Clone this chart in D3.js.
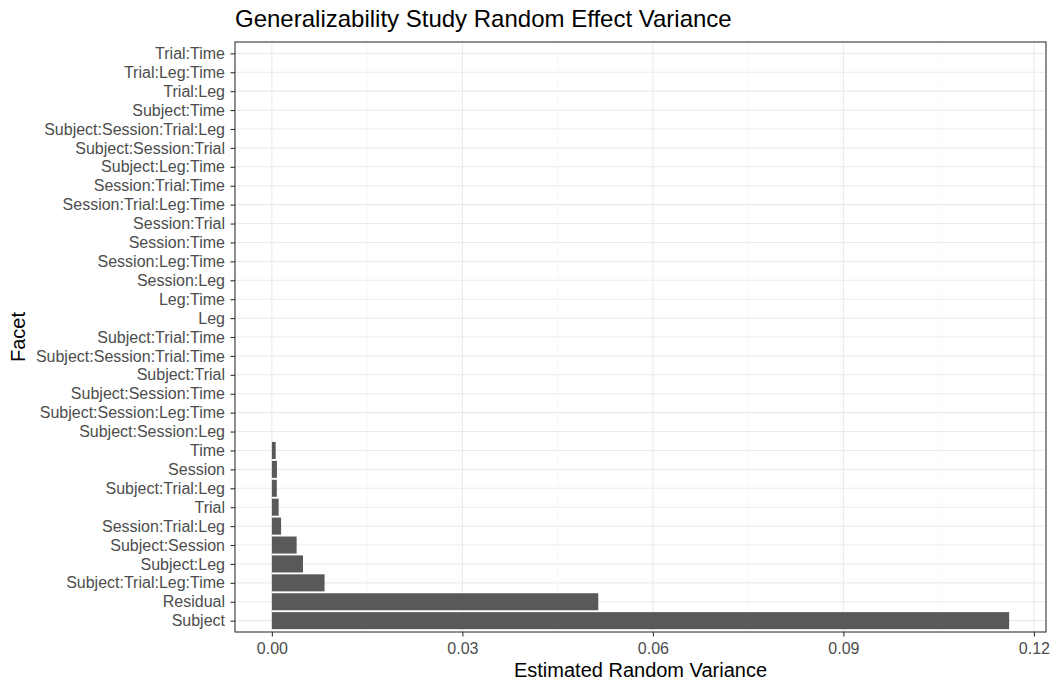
<!DOCTYPE html>
<html>
<head>
<meta charset="utf-8">
<script src="https://cdn.jsdelivr.net/npm/d3@7"></script>
<style>
  body { margin: 0; background: #fff; }
  text { font-family: "Liberation Sans", Arial, sans-serif; }
</style>
</head>
<body>
<svg id="chart" width="1055" height="686"></svg>
<script>
// facets, bottom to top as drawn
const facets = [
  "Subject", "Residual", "Subject:Trial:Leg:Time", "Subject:Leg", "Subject:Session",
  "Session:Trial:Leg", "Trial", "Subject:Trial:Leg", "Session", "Time",
  "Subject:Session:Leg", "Subject:Session:Leg:Time", "Subject:Session:Time", "Subject:Trial",
  "Subject:Session:Trial:Time", "Subject:Trial:Time", "Leg", "Leg:Time", "Session:Leg",
  "Session:Leg:Time", "Session:Time", "Session:Trial", "Session:Trial:Leg:Time",
  "Session:Trial:Time", "Subject:Leg:Time", "Subject:Session:Trial",
  "Subject:Session:Trial:Leg", "Subject:Time", "Trial:Leg", "Trial:Leg:Time", "Trial:Time"
];
const variance = [
  0.1161, 0.0514, 0.0083, 0.0049, 0.0039,
  0.00145, 0.00107, 0.00078, 0.0008, 0.0006,
  0, 0, 0, 0, 0, 0, 0, 0, 0, 0, 0, 0, 0, 0, 0, 0, 0, 0, 0, 0, 0
];
const xTicks = [0, 0.03, 0.06, 0.09, 0.12];
const xMinor = [0.015, 0.045, 0.075, 0.105];

const data = facets.map((f, i) => ({facet: f, value: variance[i]}));

const svg = d3.select("#chart");
const m = {top: 42, right: 9, bottom: 54, left: 235};
const W = 1055, H = 686;
const pw = W - m.left - m.right, ph = H - m.top - m.bottom;

const maxV = d3.max(variance);
const pad = maxV * 0.05;
const x = d3.scaleLinear().domain([-pad, maxV + pad]).range([0, pw]);
const y = d3.scalePoint().domain(facets).range([ph, 0]).padding(0.6);
const barH = y.step() * 0.9;

const g = svg.append("g").attr("transform", `translate(${m.left},${m.top})`);

// grid
g.selectAll(".minor").data(xMinor).join("line")
  .attr("x1", d => x(d)).attr("x2", d => x(d))
  .attr("y1", 0).attr("y2", ph)
  .attr("stroke", "#F5F5F5").attr("stroke-width", 0.6);
g.selectAll(".major").data(xTicks).join("line")
  .attr("x1", d => x(d)).attr("x2", d => x(d))
  .attr("y1", 0).attr("y2", ph)
  .attr("stroke", "#EBEBEB").attr("stroke-width", 1.1);
g.selectAll(".hgrid").data(facets).join("line")
  .attr("x1", 0).attr("x2", pw)
  .attr("y1", d => y(d)).attr("y2", d => y(d))
  .attr("stroke", "#EBEBEB").attr("stroke-width", 1.1);

// bars
g.selectAll(".bar").data(data).join("rect")
  .attr("x", x(0))
  .attr("y", d => y(d.facet) - barH / 2)
  .attr("width", d => x(d.value) - x(0))
  .attr("height", barH)
  .attr("fill", "#595959");

// panel border
g.append("rect").attr("width", pw).attr("height", ph)
  .attr("fill", "none").attr("stroke", "#333333").attr("stroke-width", 1.1);

// axes
const xAxis = g.append("g").attr("transform", `translate(0,${ph})`)
  .call(d3.axisBottom(x).tickValues(xTicks).tickFormat(d3.format(".2f")).tickSize(4.5).tickPadding(6));
const yAxis = g.append("g")
  .call(d3.axisLeft(y).tickSize(4.5).tickPadding(5.5));
[xAxis, yAxis].forEach(a => {
  a.select(".domain").remove();
  a.selectAll(".tick line").attr("stroke", "#333333").attr("stroke-width", 1.1);
  a.selectAll(".tick text").attr("fill", "#4D4D4D")
    .style("font-size", "16px").style("font-family", "Liberation Sans, Arial, sans-serif");
});

// titles
svg.append("text").attr("x", m.left).attr("y", 27)
  .attr("fill", "#000").style("font-size", "24px")
  .text("Generalizability Study Random Effect Variance");
svg.append("text").attr("x", m.left + pw / 2).attr("y", 677)
  .attr("text-anchor", "middle").attr("fill", "#000").style("font-size", "20px")
  .text("Estimated Random Variance");
svg.append("text")
  .attr("transform", `translate(25,${m.top + ph / 2}) rotate(-90)`)
  .attr("text-anchor", "middle").attr("fill", "#000").style("font-size", "20px")
  .text("Facet");
</script>
</body>
</html>
